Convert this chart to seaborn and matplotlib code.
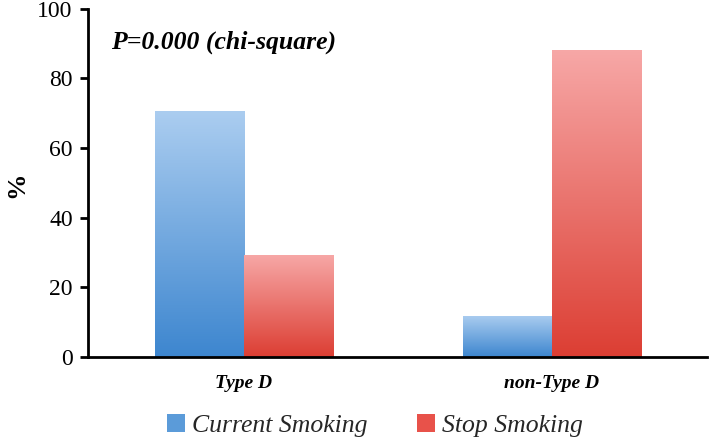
import numpy as np
import pandas as pd
import matplotlib
matplotlib.use("Agg")
import matplotlib.pyplot as plt
import seaborn as sns
from matplotlib.colors import LinearSegmentedColormap, to_rgb
from matplotlib.patches import Patch

# ---- data ----
groups = ["Type D", "non-Type D"]
series = ["Current Smoking", "Stop Smoking"]
current_smoking = [70.6, 11.8]
stop_smoking = [29.4, 88.2]
yticks = [0, 20, 40, 60, 80, 100]
annotation = "P=0.000 (chi-square)"

df = pd.DataFrame({
    "group": groups * 2,
    "status": [series[0]] * len(groups) + [series[1]] * len(groups),
    "value": current_smoking + stop_smoking,
})

sns.set_theme(style="white")
plt.rcParams["font.family"] = ["Liberation Serif", "DejaVu Serif"]

mid = {"Current Smoking": "#5b9bd9", "Stop Smoking": "#e8524a"}
grad = {
    "Current Smoking": ("#abcdf0", "#3d86cf"),
    "Stop Smoking": ("#f7a8a7", "#dc3e33"),
}

fig = plt.figure(figsize=(7.09, 4.42), dpi=100)
ax = fig.add_axes([0.124, 0.192, 0.873, 0.788])
sns.barplot(data=df, x="group", y="value", hue="status", order=groups,
            hue_order=series, palette=mid, width=0.578, gap=0,
            errorbar=None, legend=False, ax=ax, saturation=1)

xlim = (-0.506, 1.503)
ylim = (0, 100)

# gradient fill per bar
mid_rgb = {k: to_rgb(v) for k, v in mid.items()}
for p in list(ax.patches):
    fc = p.get_facecolor()[:3]
    key = min(mid_rgb, key=lambda k: sum((a - b) ** 2 for a, b in zip(mid_rgb[k], fc)))
    cmap = LinearSegmentedColormap.from_list(key, grad[key])
    x0, y0 = p.get_x(), p.get_y()
    w, h = p.get_width(), p.get_height()
    if h <= 0:
        continue
    arr = np.linspace(0, 1, 256).reshape(-1, 1)
    im = ax.imshow(arr, cmap=cmap, aspect="auto", origin="upper",
                   extent=(x0, x0 + w, y0, y0 + h), zorder=p.get_zorder() + 0.1,
                   interpolation="bilinear")
    im.set_clip_path(p)
    p.set_edgecolor("none")

ax.set_xlim(*xlim)
ax.set_ylim(*ylim)
ax.set_yticks(yticks)
ax.set_yticklabels([str(t) for t in yticks], fontsize=17)

for s in ["top", "right"]:
    ax.spines[s].set_visible(False)
for s in ["left", "bottom"]:
    ax.spines[s].set_color("black")
    ax.spines[s].set_linewidth(2)

ax.tick_params(axis="y", direction="out", length=6, width=2, color="black",
               left=True, pad=5, labelcolor="black")
ax.tick_params(axis="x", length=0, pad=13)
for lab in ax.get_xticklabels():
    lab.set_fontsize(14)
    lab.set_fontweight("bold")
    lab.set_fontstyle("italic")
    lab.set_color("black")

ax.set_xlabel("")
ax.set_ylabel("%", fontsize=19, fontweight="bold", color="black")
ax.yaxis.set_label_coords(-0.097, 0.494)

ax.text(0.037, 0.905, annotation, transform=ax.transAxes, fontsize=18.5,
        fontweight="bold", fontstyle="italic", va="center", ha="left",
        color="black")

handles = [Patch(facecolor=mid[s], edgecolor="none", label=s) for s in series]
leg = fig.legend(handles=handles, loc="center", bbox_to_anchor=(0.529, 0.038),
                 ncol=2, frameon=False, handlelength=0.7, handleheight=0.7,
                 handletextpad=0.3, columnspacing=1.9,
                 prop={"family": ["Liberation Serif"], "style": "italic", "size": 18.5})

fig.savefig("out.png", dpi=100)
